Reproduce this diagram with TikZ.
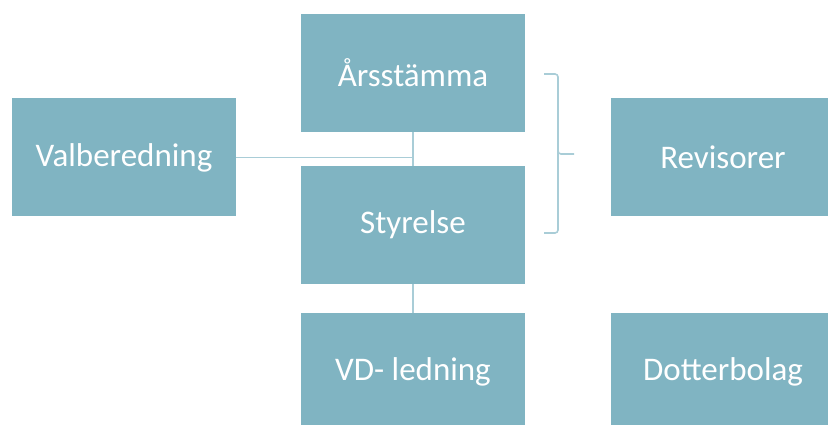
\documentclass[tikz,border=0pt]{standalone}
\usepackage{fontspec}
\setmainfont{Carlito}
\definecolor{boxc}{HTML}{80B4C2}
\definecolor{linec}{HTML}{A9CDD7}
\tikzset{
  orgbox/.style={fill=boxc, draw=none, text=white, minimum width=224pt, minimum height=118pt, inner sep=0pt, font=\fontsize{33}{38}\selectfont},
  conn/.style={draw=linec, line width=1.6pt}
}
\begin{document}
\begin{tikzpicture}[x=1pt,y=-1pt]
\useasboundingbox (0,0) rectangle (828,425);
\node[orgbox] (ars) at (413,73) {Årsstämma};
\node[orgbox] (val) at (124,157.5) {Valberedning};
\node[orgbox] (sty) at (413,225) {Styrelse};
\node[orgbox] (rev) at (723,157.5) {Revisorer};
\node[orgbox] (vd) at (413,372) {VD- ledning};
\node[orgbox] (dot) at (723,372) {Dotterbolag};
\coordinate (j) at (413,157.5);
\draw[conn] (ars.south) -- (sty.north);
\draw[conn] (val.east) -- (j);
\draw[conn] (sty.south) -- (vd.north);
\coordinate (bt) at (544,74);
\coordinate (bb) at (544,233);
\coordinate (bm) at (574,154);
\draw[conn, rounded corners=3pt] (bt) -- (558,74) -- (558,154) -- (bm);
\draw[conn, rounded corners=3pt] (558,150) -- (558,233) -- (bb);
\end{tikzpicture}
\end{document}
